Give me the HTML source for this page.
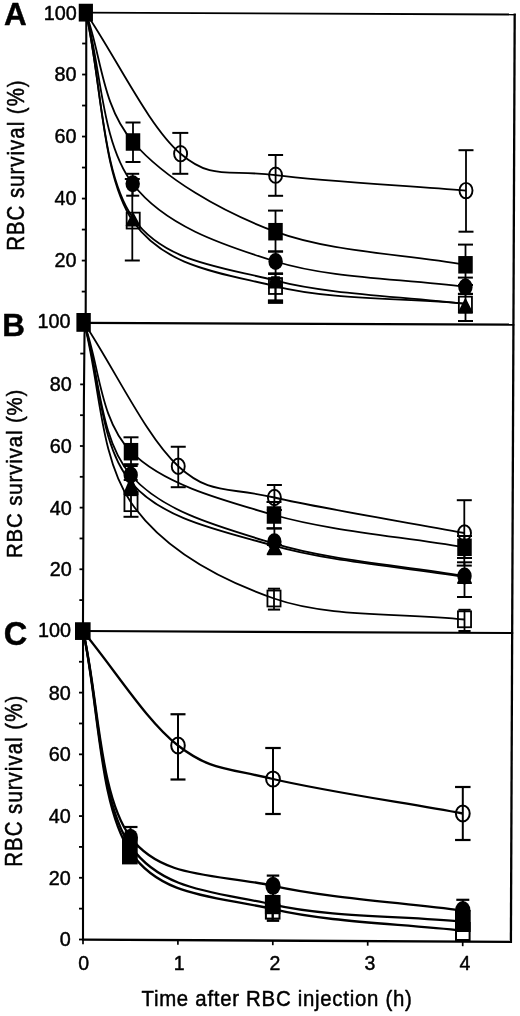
<!DOCTYPE html>
<html><head><meta charset="utf-8"><title>RBC survival</title>
<style>
html,body{margin:0;padding:0;background:#fff;}
body{width:520px;height:1016px;overflow:hidden;font-family:"Liberation Sans",sans-serif;}
svg{display:block;filter:grayscale(1);}
svg text{font-family:"Liberation Sans",sans-serif;fill:#000;stroke:#000;stroke-width:0.45px;stroke-linejoin:round;}
</style></head><body>
<svg width="520" height="1016" viewBox="0 0 520 1016">
<rect x="0" y="0" width="520" height="1016" fill="#fff"/>
<polyline points="86.3,12 86.2,100 85.7,312 84.5,335 83.9,400 83.0,620 83.1,700 83.0,940.6" fill="none" stroke="#000" stroke-width="2.10"/>
<line x1="85.50" y1="12.60" x2="515.60" y2="14.50" stroke="#000" stroke-width="1.80"/>
<line x1="84.50" y1="322.80" x2="514.30" y2="324.70" stroke="#000" stroke-width="2.20"/>
<line x1="82.50" y1="631.00" x2="513.20" y2="633.00" stroke="#000" stroke-width="2.20"/>
<line x1="82.00" y1="939.60" x2="512.00" y2="941.80" stroke="#000" stroke-width="2.30"/>
<line x1="514.70" y1="13.60" x2="510.90" y2="942.80" stroke="#000" stroke-width="2.30"/>
<line x1="81.75" y1="291.59" x2="85.75" y2="291.59" stroke="#000" stroke-width="1.80"/>
<line x1="81.80" y1="260.58" x2="85.80" y2="260.58" stroke="#000" stroke-width="1.80"/>
<text x="76.50" y="267.48" font-size="19.80" text-anchor="end">20</text>
<line x1="81.85" y1="229.57" x2="85.85" y2="229.57" stroke="#000" stroke-width="1.80"/>
<line x1="81.90" y1="198.56" x2="85.90" y2="198.56" stroke="#000" stroke-width="1.80"/>
<text x="76.50" y="205.46" font-size="19.80" text-anchor="end">40</text>
<line x1="81.95" y1="167.55" x2="85.95" y2="167.55" stroke="#000" stroke-width="1.80"/>
<line x1="82.00" y1="136.54" x2="86.00" y2="136.54" stroke="#000" stroke-width="1.80"/>
<text x="76.50" y="143.44" font-size="19.80" text-anchor="end">60</text>
<line x1="82.05" y1="105.53" x2="86.05" y2="105.53" stroke="#000" stroke-width="1.80"/>
<line x1="82.10" y1="74.52" x2="86.10" y2="74.52" stroke="#000" stroke-width="1.80"/>
<text x="76.50" y="81.42" font-size="19.80" text-anchor="end">80</text>
<line x1="82.15" y1="43.51" x2="86.15" y2="43.51" stroke="#000" stroke-width="1.80"/>
<line x1="82.20" y1="12.50" x2="86.20" y2="12.50" stroke="#000" stroke-width="1.80"/>
<text x="76.70" y="19.90" font-size="19.80" text-anchor="end">100</text>
<line x1="79.32" y1="600.09" x2="83.32" y2="600.09" stroke="#000" stroke-width="1.80"/>
<line x1="79.44" y1="569.27" x2="83.44" y2="569.27" stroke="#000" stroke-width="1.80"/>
<text x="71.80" y="576.17" font-size="19.80" text-anchor="end">20</text>
<line x1="79.56" y1="538.45" x2="83.56" y2="538.45" stroke="#000" stroke-width="1.80"/>
<line x1="79.68" y1="507.64" x2="83.68" y2="507.64" stroke="#000" stroke-width="1.80"/>
<text x="71.80" y="514.54" font-size="19.80" text-anchor="end">40</text>
<line x1="79.80" y1="476.82" x2="83.80" y2="476.82" stroke="#000" stroke-width="1.80"/>
<line x1="79.92" y1="446.01" x2="83.92" y2="446.01" stroke="#000" stroke-width="1.80"/>
<text x="71.80" y="452.91" font-size="19.80" text-anchor="end">60</text>
<line x1="80.04" y1="415.19" x2="84.04" y2="415.19" stroke="#000" stroke-width="1.80"/>
<line x1="80.16" y1="384.38" x2="84.16" y2="384.38" stroke="#000" stroke-width="1.80"/>
<text x="71.80" y="391.28" font-size="19.80" text-anchor="end">80</text>
<line x1="80.28" y1="353.56" x2="84.28" y2="353.56" stroke="#000" stroke-width="1.80"/>
<line x1="80.40" y1="322.75" x2="84.40" y2="322.75" stroke="#000" stroke-width="1.80"/>
<text x="70.40" y="328.05" font-size="19.80" text-anchor="end">100</text>
<line x1="79.00" y1="939.50" x2="83.00" y2="939.50" stroke="#000" stroke-width="1.80"/>
<text x="70.80" y="946.40" font-size="19.80" text-anchor="end">0</text>
<line x1="79.00" y1="908.64" x2="83.00" y2="908.64" stroke="#000" stroke-width="1.80"/>
<line x1="79.00" y1="877.78" x2="83.00" y2="877.78" stroke="#000" stroke-width="1.80"/>
<text x="70.80" y="884.68" font-size="19.80" text-anchor="end">20</text>
<line x1="79.00" y1="846.92" x2="83.00" y2="846.92" stroke="#000" stroke-width="1.80"/>
<line x1="79.00" y1="816.06" x2="83.00" y2="816.06" stroke="#000" stroke-width="1.80"/>
<text x="70.80" y="822.96" font-size="19.80" text-anchor="end">40</text>
<line x1="79.00" y1="785.20" x2="83.00" y2="785.20" stroke="#000" stroke-width="1.80"/>
<line x1="79.00" y1="754.34" x2="83.00" y2="754.34" stroke="#000" stroke-width="1.80"/>
<text x="70.80" y="761.24" font-size="19.80" text-anchor="end">60</text>
<line x1="79.00" y1="723.48" x2="83.00" y2="723.48" stroke="#000" stroke-width="1.80"/>
<line x1="79.00" y1="692.62" x2="83.00" y2="692.62" stroke="#000" stroke-width="1.80"/>
<text x="70.80" y="699.52" font-size="19.80" text-anchor="end">80</text>
<line x1="79.00" y1="661.76" x2="83.00" y2="661.76" stroke="#000" stroke-width="1.80"/>
<line x1="79.00" y1="630.90" x2="83.00" y2="630.90" stroke="#000" stroke-width="1.80"/>
<text x="71.10" y="637.00" font-size="19.80" text-anchor="end">100</text>
<line x1="83.00" y1="940.00" x2="83.00" y2="944.20" stroke="#000" stroke-width="1.70"/>
<line x1="177.90" y1="940.50" x2="177.90" y2="944.70" stroke="#000" stroke-width="1.70"/>
<line x1="272.80" y1="941.00" x2="272.80" y2="945.20" stroke="#000" stroke-width="1.70"/>
<line x1="367.70" y1="941.50" x2="367.70" y2="945.70" stroke="#000" stroke-width="1.70"/>
<line x1="462.70" y1="942.00" x2="462.70" y2="946.20" stroke="#000" stroke-width="1.70"/>
<text x="83.70" y="970.40" font-size="19.50" text-anchor="middle">0</text>
<text x="179.30" y="970.40" font-size="19.50" text-anchor="middle">1</text>
<text x="275.00" y="970.40" font-size="19.50" text-anchor="middle">2</text>
<text x="370.00" y="970.40" font-size="19.50" text-anchor="middle">3</text>
<text x="465.00" y="970.40" font-size="19.50" text-anchor="middle">4</text>
<text x="0" y="0" font-size="20.40" text-anchor="start" textLength="270.3" lengthAdjust="spacing" transform="translate(141.50 1005.80) rotate(0) scale(1 1.050)">Time after RBC injection (h)</text>
<text x="0" y="0" font-size="20.40" text-anchor="start" textLength="170.4" lengthAdjust="spacing" transform="translate(23.50 250.80) rotate(-90) scale(1 1.140)">RBC survival (%)</text>
<text x="0" y="0" font-size="20.40" text-anchor="start" textLength="168.4" lengthAdjust="spacing" transform="translate(22.20 558.00) rotate(-90) scale(1 1.120)">RBC survival (%)</text>
<text x="0" y="0" font-size="20.40" text-anchor="start" textLength="171.0" lengthAdjust="spacing" transform="translate(21.50 866.80) rotate(-90) scale(1 1.160)">RBC survival (%)</text>
<text x="4.10" y="24.50" font-size="31.40" text-anchor="start" font-weight="bold">A</text>
<text x="2.30" y="336.00" font-size="31.40" text-anchor="start" font-weight="bold">B</text>
<text x="3.70" y="645.00" font-size="32.60" text-anchor="start" font-weight="bold">C</text>
<path d="M86.00,13.00 C117.53,59.92 149.00,126.72 180.60,153.75 C212.20,180.78 228.03,169.06 275.60,175.20 C323.17,181.34 402.53,185.47 466.00,190.60" fill="none" stroke="#000" stroke-width="1.80" stroke-linejoin="round"/>
<path d="M86.00,13.00 C101.67,56.00 101.42,105.55 133.00,142.00 C164.58,178.45 220.08,211.23 275.50,231.70 C330.92,252.17 402.17,253.77 465.50,264.80" fill="none" stroke="#000" stroke-width="1.80" stroke-linejoin="round"/>
<path d="M86.00,13.00 C101.57,69.93 101.10,142.38 132.70,183.80 C164.30,225.22 220.15,244.30 275.60,261.50 C331.05,278.70 402.13,278.50 465.40,287.00" fill="none" stroke="#000" stroke-width="1.80" stroke-linejoin="round"/>
<path d="M86.00,13.00 C101.73,82.53 101.62,176.05 133.20,221.60 C164.78,267.15 220.12,272.62 275.50,286.30 C330.88,299.98 402.17,297.90 465.50,303.70" fill="none" stroke="#000" stroke-width="1.80" stroke-linejoin="round"/>
<path d="M86.00,13.00 C101.67,81.33 101.42,173.40 133.00,218.00 C164.58,262.60 220.08,266.28 275.50,280.60 C330.92,294.92 402.17,296.13 465.50,303.90" fill="none" stroke="#000" stroke-width="1.80" stroke-linejoin="round"/>
<line x1="180.30" y1="132.90" x2="180.30" y2="173.80" stroke="#000" stroke-width="1.80"/>
<line x1="172.30" y1="132.90" x2="188.30" y2="132.90" stroke="#000" stroke-width="2.00"/>
<line x1="172.30" y1="173.80" x2="188.30" y2="173.80" stroke="#000" stroke-width="2.00"/>
<line x1="275.60" y1="155.00" x2="275.60" y2="195.80" stroke="#000" stroke-width="1.80"/>
<line x1="268.10" y1="155.00" x2="283.10" y2="155.00" stroke="#000" stroke-width="2.00"/>
<line x1="268.10" y1="195.80" x2="283.10" y2="195.80" stroke="#000" stroke-width="2.00"/>
<line x1="466.00" y1="150.20" x2="466.00" y2="231.70" stroke="#000" stroke-width="1.80"/>
<line x1="458.50" y1="150.20" x2="473.50" y2="150.20" stroke="#000" stroke-width="2.00"/>
<line x1="458.50" y1="231.70" x2="473.50" y2="231.70" stroke="#000" stroke-width="2.00"/>
<line x1="133.00" y1="122.50" x2="133.00" y2="162.00" stroke="#000" stroke-width="1.80"/>
<line x1="125.50" y1="122.50" x2="140.50" y2="122.50" stroke="#000" stroke-width="2.00"/>
<line x1="125.50" y1="162.00" x2="140.50" y2="162.00" stroke="#000" stroke-width="2.00"/>
<line x1="275.50" y1="210.60" x2="275.50" y2="251.50" stroke="#000" stroke-width="1.80"/>
<line x1="268.00" y1="210.60" x2="283.00" y2="210.60" stroke="#000" stroke-width="2.00"/>
<line x1="268.00" y1="251.50" x2="283.00" y2="251.50" stroke="#000" stroke-width="2.00"/>
<line x1="465.50" y1="244.60" x2="465.50" y2="285.00" stroke="#000" stroke-width="1.80"/>
<line x1="458.00" y1="244.60" x2="473.00" y2="244.60" stroke="#000" stroke-width="2.00"/>
<line x1="458.00" y1="285.00" x2="473.00" y2="285.00" stroke="#000" stroke-width="2.00"/>
<line x1="132.70" y1="173.80" x2="132.70" y2="195.70" stroke="#000" stroke-width="1.80"/>
<line x1="126.20" y1="173.80" x2="139.20" y2="173.80" stroke="#000" stroke-width="2.00"/>
<line x1="126.20" y1="195.70" x2="139.20" y2="195.70" stroke="#000" stroke-width="2.00"/>
<line x1="275.60" y1="251.50" x2="275.60" y2="273.70" stroke="#000" stroke-width="1.80"/>
<line x1="268.10" y1="251.50" x2="283.10" y2="251.50" stroke="#000" stroke-width="2.00"/>
<line x1="268.10" y1="273.70" x2="283.10" y2="273.70" stroke="#000" stroke-width="2.00"/>
<line x1="465.40" y1="277.60" x2="465.40" y2="293.80" stroke="#000" stroke-width="1.80"/>
<line x1="457.90" y1="277.60" x2="472.90" y2="277.60" stroke="#000" stroke-width="2.00"/>
<line x1="457.90" y1="293.80" x2="472.90" y2="293.80" stroke="#000" stroke-width="2.00"/>
<line x1="132.30" y1="179.00" x2="132.30" y2="260.50" stroke="#000" stroke-width="1.80"/>
<line x1="124.80" y1="179.00" x2="139.80" y2="179.00" stroke="#000" stroke-width="2.00"/>
<line x1="124.80" y1="260.50" x2="139.80" y2="260.50" stroke="#000" stroke-width="2.00"/>
<line x1="275.50" y1="273.70" x2="275.50" y2="300.60" stroke="#000" stroke-width="1.80"/>
<line x1="268.00" y1="273.70" x2="283.00" y2="273.70" stroke="#000" stroke-width="2.00"/>
<line x1="268.00" y1="300.60" x2="283.00" y2="300.60" stroke="#000" stroke-width="2.00"/>
<line x1="465.50" y1="294.00" x2="465.50" y2="321.00" stroke="#000" stroke-width="1.80"/>
<line x1="458.00" y1="294.00" x2="473.00" y2="294.00" stroke="#000" stroke-width="2.00"/>
<line x1="458.00" y1="321.00" x2="473.00" y2="321.00" stroke="#000" stroke-width="2.00"/>
<line x1="275.50" y1="273.70" x2="275.50" y2="302.40" stroke="#000" stroke-width="1.80"/>
<line x1="268.00" y1="273.70" x2="283.00" y2="273.70" stroke="#000" stroke-width="2.00"/>
<line x1="268.00" y1="302.40" x2="283.00" y2="302.40" stroke="#000" stroke-width="2.00"/>
<line x1="267.90" y1="301.70" x2="283.10" y2="301.70" stroke="#000" stroke-width="4.20"/>
<ellipse cx="180.60" cy="153.70" rx="6.50" ry="7.70" fill="none" stroke="#000" stroke-width="1.90"/>
<ellipse cx="275.60" cy="175.20" rx="6.50" ry="7.70" fill="none" stroke="#000" stroke-width="1.90"/>
<ellipse cx="466.00" cy="190.60" rx="6.50" ry="7.70" fill="none" stroke="#000" stroke-width="1.90"/>
<rect x="125.75" y="133.25" width="14.50" height="17.50" fill="#000"/>
<rect x="268.25" y="222.95" width="14.50" height="17.50" fill="#000"/>
<rect x="458.25" y="256.05" width="14.50" height="17.50" fill="#000"/>
<ellipse cx="132.70" cy="183.80" rx="7.20" ry="8.50" fill="#000"/>
<ellipse cx="275.60" cy="261.50" rx="7.20" ry="8.50" fill="#000"/>
<ellipse cx="465.40" cy="287.00" rx="7.20" ry="8.50" fill="#000"/>
<rect x="126.65" y="212.65" width="13.10" height="15.90" fill="none" stroke="#000" stroke-width="1.80"/>
<rect x="268.95" y="278.05" width="13.10" height="15.90" fill="none" stroke="#000" stroke-width="1.80"/>
<rect x="458.85" y="296.65" width="13.10" height="15.90" fill="none" stroke="#000" stroke-width="1.80"/>
<polygon points="133.00,213.65 139.25,225.55 126.75,225.55" fill="#000" stroke="#000" stroke-width="2.0" stroke-linejoin="round"/>
<polygon points="271.25,276.20 279.75,276.20 283.10,288.60 267.90,288.60" fill="#000"/>
<polygon points="465.40,299.70 471.90,312.50 458.90,312.50" fill="#000" stroke="#000" stroke-width="2.0" stroke-linejoin="round"/>
<rect x="78.75" y="3.75" width="14.20" height="17.80" fill="#000"/>
<path d="M84.20,323.00 C115.55,370.75 146.55,437.17 178.25,466.25 C209.95,495.33 226.69,486.38 274.40,497.50 C322.11,508.62 401.13,521.17 464.50,533.00" fill="none" stroke="#000" stroke-width="1.80" stroke-linejoin="round"/>
<path d="M84.20,323.00 C99.80,365.90 99.37,419.70 131.00,451.70 C162.63,483.70 218.42,499.07 274.00,515.00 C329.58,530.93 401.00,536.53 464.50,547.30" fill="none" stroke="#000" stroke-width="1.80" stroke-linejoin="round"/>
<path d="M84.20,323.00 C99.70,373.67 99.00,438.23 130.70,475.00 C162.40,511.77 218.77,526.77 274.40,543.60 C330.03,560.43 401.13,565.20 464.50,576.00" fill="none" stroke="#000" stroke-width="1.80" stroke-linejoin="round"/>
<path d="M84.20,323.00 C99.80,376.10 99.30,445.15 131.00,482.30 C162.70,519.45 218.82,530.12 274.40,545.90 C329.98,561.68 401.13,566.63 464.50,577.00" fill="none" stroke="#000" stroke-width="1.80" stroke-linejoin="round"/>
<path d="M84.20,323.00 C99.80,382.83 99.37,456.58 131.00,502.50 C162.63,548.42 218.42,579.00 274.00,598.50 C329.58,618.00 401.00,612.50 464.50,619.50" fill="none" stroke="#000" stroke-width="1.80" stroke-linejoin="round"/>
<line x1="178.25" y1="446.75" x2="178.25" y2="487.20" stroke="#000" stroke-width="1.80"/>
<line x1="170.75" y1="446.75" x2="185.75" y2="446.75" stroke="#000" stroke-width="2.00"/>
<line x1="170.75" y1="487.20" x2="185.75" y2="487.20" stroke="#000" stroke-width="2.00"/>
<line x1="274.40" y1="485.00" x2="274.40" y2="510.00" stroke="#000" stroke-width="1.80"/>
<line x1="266.90" y1="485.00" x2="281.90" y2="485.00" stroke="#000" stroke-width="2.00"/>
<line x1="266.90" y1="510.00" x2="281.90" y2="510.00" stroke="#000" stroke-width="2.00"/>
<line x1="464.30" y1="500.20" x2="464.30" y2="565.60" stroke="#000" stroke-width="1.80"/>
<line x1="456.80" y1="500.20" x2="471.80" y2="500.20" stroke="#000" stroke-width="2.00"/>
<line x1="456.80" y1="565.60" x2="471.80" y2="565.60" stroke="#000" stroke-width="2.00"/>
<line x1="131.00" y1="437.30" x2="131.00" y2="464.20" stroke="#000" stroke-width="1.80"/>
<line x1="123.50" y1="437.30" x2="138.50" y2="437.30" stroke="#000" stroke-width="2.00"/>
<line x1="123.50" y1="464.20" x2="138.50" y2="464.20" stroke="#000" stroke-width="2.00"/>
<line x1="274.00" y1="502.00" x2="274.00" y2="528.30" stroke="#000" stroke-width="1.80"/>
<line x1="266.50" y1="502.00" x2="281.50" y2="502.00" stroke="#000" stroke-width="2.00"/>
<line x1="266.50" y1="528.30" x2="281.50" y2="528.30" stroke="#000" stroke-width="2.00"/>
<line x1="464.50" y1="536.00" x2="464.50" y2="558.00" stroke="#000" stroke-width="1.80"/>
<line x1="457.00" y1="536.00" x2="472.00" y2="536.00" stroke="#000" stroke-width="2.00"/>
<line x1="457.00" y1="558.00" x2="472.00" y2="558.00" stroke="#000" stroke-width="2.00"/>
<line x1="130.70" y1="466.00" x2="130.70" y2="480.00" stroke="#000" stroke-width="1.80"/>
<line x1="123.70" y1="466.00" x2="137.70" y2="466.00" stroke="#000" stroke-width="2.00"/>
<line x1="123.70" y1="480.00" x2="137.70" y2="480.00" stroke="#000" stroke-width="2.00"/>
<line x1="274.40" y1="528.50" x2="274.40" y2="545.00" stroke="#000" stroke-width="1.80"/>
<line x1="266.90" y1="528.50" x2="281.90" y2="528.50" stroke="#000" stroke-width="2.00"/>
<line x1="266.90" y1="545.00" x2="281.90" y2="545.00" stroke="#000" stroke-width="2.00"/>
<line x1="464.50" y1="562.30" x2="464.50" y2="597.00" stroke="#000" stroke-width="1.80"/>
<line x1="457.00" y1="562.30" x2="472.00" y2="562.30" stroke="#000" stroke-width="2.00"/>
<line x1="457.00" y1="597.00" x2="472.00" y2="597.00" stroke="#000" stroke-width="2.00"/>
<line x1="131.00" y1="492.00" x2="131.00" y2="516.80" stroke="#000" stroke-width="1.80"/>
<line x1="123.50" y1="492.00" x2="138.50" y2="492.00" stroke="#000" stroke-width="2.00"/>
<line x1="123.50" y1="516.80" x2="138.50" y2="516.80" stroke="#000" stroke-width="2.00"/>
<line x1="274.00" y1="588.70" x2="274.00" y2="609.60" stroke="#000" stroke-width="1.80"/>
<line x1="267.90" y1="588.70" x2="280.10" y2="588.70" stroke="#000" stroke-width="2.00"/>
<line x1="267.90" y1="609.60" x2="280.10" y2="609.60" stroke="#000" stroke-width="2.00"/>
<line x1="464.50" y1="609.80" x2="464.50" y2="631.00" stroke="#000" stroke-width="1.80"/>
<line x1="458.40" y1="609.80" x2="470.60" y2="609.80" stroke="#000" stroke-width="2.00"/>
<line x1="458.40" y1="631.00" x2="470.60" y2="631.00" stroke="#000" stroke-width="2.00"/>
<ellipse cx="178.25" cy="466.25" rx="6.50" ry="7.70" fill="none" stroke="#000" stroke-width="1.90"/>
<ellipse cx="274.40" cy="497.50" rx="6.50" ry="7.70" fill="none" stroke="#000" stroke-width="1.90"/>
<ellipse cx="464.50" cy="533.00" rx="6.50" ry="7.70" fill="none" stroke="#000" stroke-width="1.90"/>
<rect x="123.75" y="442.95" width="14.50" height="17.50" fill="#000"/>
<rect x="266.75" y="506.25" width="14.50" height="17.50" fill="#000"/>
<rect x="457.25" y="538.55" width="14.50" height="17.50" fill="#000"/>
<ellipse cx="130.70" cy="475.00" rx="7.20" ry="8.50" fill="#000"/>
<ellipse cx="274.40" cy="541.70" rx="7.20" ry="8.50" fill="#000"/>
<ellipse cx="464.50" cy="576.00" rx="7.20" ry="8.50" fill="#000"/>
<rect x="124.45" y="495.25" width="13.10" height="15.90" fill="none" stroke="#000" stroke-width="1.80"/>
<rect x="267.45" y="590.55" width="13.10" height="15.90" fill="none" stroke="#000" stroke-width="1.80"/>
<rect x="457.95" y="611.35" width="13.10" height="15.90" fill="none" stroke="#000" stroke-width="1.80"/>
<polygon points="131.00,477.80 137.75,494.00 124.25,494.00" fill="#000" stroke="#000" stroke-width="2.0" stroke-linejoin="round"/>
<polygon points="274.40,541.35 281.15,554.25 267.65,554.25" fill="#000" stroke="#000" stroke-width="2.0" stroke-linejoin="round"/>
<polygon points="464.50,570.70 471.00,583.10 458.00,583.10" fill="#000" stroke="#000" stroke-width="2.0" stroke-linejoin="round"/>
<rect x="76.40" y="313.00" width="14.40" height="18.80" fill="#000"/>
<path d="M83.20,631.50 C114.80,669.50 146.37,720.92 178.00,745.50 C209.63,770.08 225.53,767.67 273.00,779.00 C320.47,790.33 399.53,802.00 462.80,813.50" fill="none" stroke="#000" stroke-width="2.30" stroke-linejoin="round"/>
<path d="M83.20,631.50 C98.97,700.10 98.87,794.92 130.50,837.30 C162.13,879.68 217.62,873.58 273.00,885.80 C328.38,898.02 399.53,902.33 462.80,910.60" fill="none" stroke="#000" stroke-width="2.30" stroke-linejoin="round"/>
<path d="M83.20,631.50 C98.97,703.00 98.87,800.48 130.50,846.00 C162.13,891.52 217.62,892.00 273.00,904.60 C328.38,917.20 399.53,915.93 462.80,921.60" fill="none" stroke="#000" stroke-width="2.30" stroke-linejoin="round"/>
<path d="M83.20,631.50 C98.97,705.00 98.87,805.72 130.50,852.00 C162.13,898.28 217.62,896.10 273.00,909.20 C328.38,922.30 399.53,923.47 462.80,930.60" fill="none" stroke="#000" stroke-width="2.30" stroke-linejoin="round"/>
<line x1="178.00" y1="714.25" x2="178.00" y2="779.50" stroke="#000" stroke-width="2.00"/>
<line x1="170.50" y1="714.25" x2="185.50" y2="714.25" stroke="#000" stroke-width="2.20"/>
<line x1="170.50" y1="779.50" x2="185.50" y2="779.50" stroke="#000" stroke-width="2.20"/>
<line x1="273.00" y1="748.00" x2="273.00" y2="814.00" stroke="#000" stroke-width="2.00"/>
<line x1="265.25" y1="748.00" x2="280.75" y2="748.00" stroke="#000" stroke-width="2.20"/>
<line x1="265.25" y1="814.00" x2="280.75" y2="814.00" stroke="#000" stroke-width="2.20"/>
<line x1="462.80" y1="787.00" x2="462.80" y2="840.00" stroke="#000" stroke-width="2.00"/>
<line x1="455.05" y1="787.00" x2="470.55" y2="787.00" stroke="#000" stroke-width="2.20"/>
<line x1="455.05" y1="840.00" x2="470.55" y2="840.00" stroke="#000" stroke-width="2.20"/>
<line x1="130.50" y1="827.00" x2="130.50" y2="847.00" stroke="#000" stroke-width="2.00"/>
<line x1="123.50" y1="827.00" x2="137.50" y2="827.00" stroke="#000" stroke-width="2.20"/>
<line x1="123.50" y1="847.00" x2="137.50" y2="847.00" stroke="#000" stroke-width="2.20"/>
<line x1="273.00" y1="875.60" x2="273.00" y2="896.00" stroke="#000" stroke-width="2.00"/>
<line x1="266.75" y1="875.60" x2="279.25" y2="875.60" stroke="#000" stroke-width="2.20"/>
<line x1="266.75" y1="896.00" x2="279.25" y2="896.00" stroke="#000" stroke-width="2.20"/>
<line x1="462.80" y1="899.80" x2="462.80" y2="920.00" stroke="#000" stroke-width="2.00"/>
<line x1="456.30" y1="899.80" x2="469.30" y2="899.80" stroke="#000" stroke-width="2.20"/>
<line x1="456.30" y1="920.00" x2="469.30" y2="920.00" stroke="#000" stroke-width="2.20"/>
<ellipse cx="178.00" cy="745.50" rx="6.80" ry="8.00" fill="none" stroke="#000" stroke-width="2.00"/>
<ellipse cx="273.00" cy="779.00" rx="6.90" ry="7.60" fill="none" stroke="#000" stroke-width="2.00"/>
<ellipse cx="462.80" cy="813.50" rx="6.90" ry="8.00" fill="none" stroke="#000" stroke-width="2.00"/>
<ellipse cx="130.50" cy="837.30" rx="7.40" ry="8.60" fill="#000"/>
<ellipse cx="273.00" cy="885.80" rx="7.60" ry="9.00" fill="#000"/>
<ellipse cx="462.80" cy="910.00" rx="7.60" ry="9.00" fill="#000"/>
<rect x="122" y="838" width="15.7" height="26.4" fill="#000"/>
<rect x="264.9" y="895" width="15.6" height="19.2" fill="#000"/>
<rect x="265.90" y="904.60" width="13.60" height="14.00" fill="none" stroke="#000" stroke-width="2.00"/>
<line x1="272.70" y1="912.00" x2="272.70" y2="921.00" stroke="#000" stroke-width="2.40"/>
<line x1="266.80" y1="920.60" x2="279.20" y2="920.60" stroke="#000" stroke-width="2.60"/>
<rect x="455" y="910" width="15.7" height="22" fill="#000"/>
<rect x="456.00" y="923.00" width="13.60" height="17.00" fill="none" stroke="#000" stroke-width="2.00"/>
<rect x="75.00" y="622.25" width="15.60" height="17.70" fill="#000"/>
</svg>
</body></html>
